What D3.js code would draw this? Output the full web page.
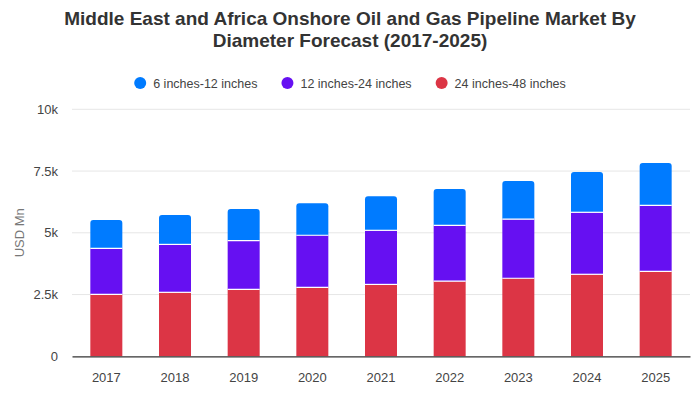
<!DOCTYPE html>
<html>
<head>
<meta charset="utf-8">
<script src="https://cdn.jsdelivr.net/npm/d3@7"></script>
<style>
  html, body { margin: 0; padding: 0; background: #fff; }
  svg { display: block; }
</style>
</head>
<body>
<svg id="chart" width="700" height="400"></svg>
<script>
const titleLines = ["Middle East and Africa Onshore Oil and Gas Pipeline Market By", "Diameter Forecast (2017-2025)"];
const years = ["2017", "2018", "2019", "2020", "2021", "2022", "2023", "2024", "2025"];
const seriesNames = ["24 inches-48 inches", "12 inches-24 inches", "6 inches-12 inches"];
const legendOrder = ["6 inches-12 inches", "12 inches-24 inches", "24 inches-48 inches"];
const red = [2.51, 2.59, 2.71, 2.79, 2.91, 3.04, 3.16, 3.32, 3.44];
const purple = [1.86, 1.94, 1.97, 2.11, 2.19, 2.26, 2.39, 2.51, 2.67];
const blue = [1.15, 1.19, 1.28, 1.30, 1.38, 1.47, 1.55, 1.63, 1.72];
const yTicks = [0, 2.5, 5, 7.5, 10];
const yTickLabels = ["0", "2.5k", "5k", "7.5k", "10k"];
const colors = {"6 inches-12 inches": "#007bff", "12 inches-24 inches": "#6610f2", "24 inches-48 inches": "#dc3545"};

const seriesValues = {"24 inches-48 inches": red, "12 inches-24 inches": purple, "6 inches-12 inches": blue};
const rows = years.map((y, i) => {
  const r = {year: y};
  seriesNames.forEach(s => r[s] = seriesValues[s][i]);
  return r;
});

const svg = d3.select("#chart");
const margin = {left: 72, right: 10, top: 109.3, bottom: 43.7};
const W = 700, H = 400;

const x = d3.scaleBand().domain(years).range([margin.left, W - margin.right]).paddingInner(0.534).paddingOuter(0.267);
const y = d3.scaleLinear().domain([0, 10]).range([H - margin.bottom, margin.top]);

const font = "'Liberation Sans', Arial, sans-serif";

// Title
svg.append("g").selectAll("text").data(titleLines).join("text")
  .attr("x", 350).attr("y", (d, i) => 25 + i * 22)
  .attr("text-anchor", "middle")
  .attr("font-family", font)
  .attr("font-weight", "bold").attr("font-size", 19).attr("fill", "#333")
  .text(d => d);

// Legend
const legendG = svg.append("g");
const items = legendG.selectAll("g").data(legendOrder).join("g");
items.append("circle").attr("r", 6).attr("cy", 0).attr("cx", 0).attr("fill", d => colors[d]);
items.append("text").attr("x", 13).attr("y", 4.5)
  .attr("font-family", font).attr("font-size", 12.5).attr("fill", "#444").text(d => d);
let lx = 0;
const gap = 24;
const positions = [];
items.each(function() {
  const w = this.getBBox().width;
  positions.push(lx);
  lx += w + gap;
});
const totalW = lx - gap;
const startX = 350 - totalW / 2 + 6;
items.attr("transform", (d, i) => `translate(${startX + positions[i]},83)`);

// Grid
svg.append("g").selectAll("line").data(yTicks.filter(t => t > 0)).join("line")
  .attr("x1", margin.left).attr("x2", W - margin.right)
  .attr("y1", d => y(d)).attr("y2", d => y(d))
  .attr("stroke", "#e6e6e6").attr("stroke-width", 1);

// Y axis
const yAxis = d3.axisLeft(y).tickValues(yTicks).tickFormat((d, i) => yTickLabels[i]).tickSize(0).tickPadding(14);
const yg = svg.append("g").attr("transform", `translate(${margin.left},0)`).call(yAxis);
yg.select(".domain").remove();
yg.selectAll("text").attr("font-family", font).attr("font-size", 13).attr("fill", "#444");

svg.append("text")
  .attr("transform", `translate(24,${(y(0) + y(10)) / 2}) rotate(-90)`)
  .attr("text-anchor", "middle")
  .attr("font-family", font).attr("font-size", 13).attr("fill", "#777")
  .text("USD Mn");

// Bars
const stack = d3.stack().keys(seriesNames);
const stacked = stack(rows);
const topKey = seriesNames[seriesNames.length - 1];
const rr = 3;
function roundedTop(x0, y0, w, h, r) {
  return `M${x0},${y0 + h} V${y0 + r} Q${x0},${y0} ${x0 + r},${y0} H${x0 + w - r} Q${x0 + w},${y0} ${x0 + w},${y0 + r} V${y0 + h} Z`;
}
const layers = svg.append("g").selectAll("g").data(stacked).join("g").attr("fill", d => colors[d.key]);
layers.selectAll("path").data(d => d.map(v => ({v, key: d.key}))).join("path")
  .attr("d", d => {
    const x0 = x(d.v.data.year), w = x.bandwidth();
    const y0 = y(d.v[1]), h = y(d.v[0]) - y(d.v[1]);
    return d.key === topKey ? roundedTop(x0, y0, w, h, rr) : `M${x0},${y0} h${w} v${h} h${-w} Z`;
  });
// White separators
svg.append("g").selectAll("line").data(stacked.slice(0, -1).flatMap(s => s.map(v => v))).join("line")
  .attr("x1", d => x(d.data.year)).attr("x2", d => x(d.data.year) + x.bandwidth())
  .attr("y1", d => y(d[1])).attr("y2", d => y(d[1]))
  .attr("stroke", "#fff").attr("stroke-width", 1.2);

// X axis
const xAxis = d3.axisBottom(x).tickSize(0).tickPadding(16);
const xg = svg.append("g").attr("transform", `translate(0,${y(0)})`).call(xAxis);
xg.select(".domain").attr("stroke", "#333").attr("stroke-width", 1.2);
xg.selectAll("text").attr("font-family", font).attr("font-size", 13).attr("fill", "#444");
</script>
</body>
</html>
